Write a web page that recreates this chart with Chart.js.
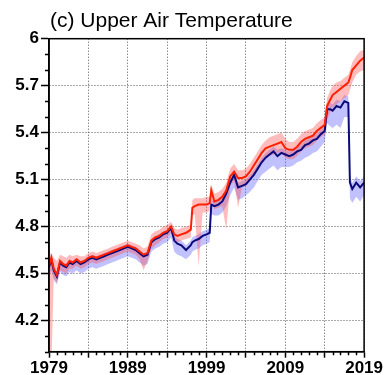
<!DOCTYPE html>
<html>
<head>
<meta charset="utf-8">
<script src="https://cdn.jsdelivr.net/npm/chart.js@4/dist/chart.umd.min.js"></script>
<style>
  html, body { margin: 0; padding: 0; background: #fff; }
  canvas { display: block; }
</style>
</head>
<body>
<canvas id="c" width="385" height="375"></canvas>
<script>
// Time axis (decimal years)
const years = [
  1979.0, 1979.3, 1979.6, 1980.0, 1980.4, 1980.8, 1981.2, 1981.6, 1982.0, 1982.5,
  1983.0, 1983.5, 1984.0, 1984.5, 1985.0, 1985.5, 1986.0, 1986.5, 1987.0, 1987.5,
  1988.0, 1988.5, 1989.0, 1989.5, 1990.0, 1990.5, 1991.0, 1991.5, 1992.0, 1992.5,
  1993.0, 1993.5, 1994.0, 1994.5, 1994.9, 1995.3, 1995.8, 1996.4, 1997.0, 1997.2,
  1997.5, 1998.0, 1998.5, 1999.0, 1999.4, 1999.6, 2000.0, 2000.5, 2001.0, 2001.5,
  2002.0, 2002.5, 2003.0, 2003.5, 2004.0, 2004.5, 2005.0, 2005.5, 2006.0, 2006.5,
  2007.0, 2007.5, 2008.0, 2008.5, 2009.0, 2009.5, 2010.0, 2010.5, 2011.0, 2011.5,
  2012.0, 2012.5, 2013.0, 2013.5, 2014.0, 2014.3, 2014.7, 2015.0, 2015.5, 2016.0,
  2016.5, 2017.0, 2017.2, 2017.5, 2018.0, 2018.5, 2019.0
];

// Red series: central line and spread
const redMean = [
  4.55, 4.60, 4.53, 4.49, 4.58, 4.56, 4.55, 4.58, 4.57, 4.59,
  4.57, 4.58, 4.60, 4.61, 4.60, 4.61, 4.62, 4.63, 4.64, 4.65,
  4.66, 4.67, 4.68, 4.67, 4.66, 4.64, 4.62, 4.63, 4.71, 4.73,
  4.74, 4.76, 4.77, 4.80, 4.75, 4.74, 4.75, 4.76, 4.78, 4.92,
  4.93, 4.94, 4.94, 4.94, 4.95, 5.03, 4.96, 4.97, 4.99, 5.03,
  5.12, 5.15, 5.11, 5.11, 5.12, 5.15, 5.19, 5.23, 5.27, 5.30,
  5.31, 5.32, 5.33, 5.34, 5.30, 5.29, 5.29, 5.31, 5.34, 5.36,
  5.37, 5.38, 5.41, 5.43, 5.45, 5.57, 5.61, 5.64, 5.66, 5.68,
  5.70, 5.72, 5.75, 5.80, 5.83, 5.86, 5.88
];
const redHigh = [
  4.62, 4.63, 4.60, 4.58, 4.62, 4.61, 4.60, 4.62, 4.61, 4.62,
  4.61, 4.61, 4.63, 4.64, 4.63, 4.64, 4.65, 4.66, 4.67, 4.68,
  4.69, 4.70, 4.71, 4.70, 4.69, 4.68, 4.66, 4.67, 4.75, 4.77,
  4.78, 4.80, 4.81, 4.83, 4.79, 4.78, 4.79, 4.80, 4.81, 4.97,
  4.98, 4.98, 4.98, 4.99, 4.99, 5.07, 5.01, 5.02, 5.04, 5.08,
  5.17, 5.20, 5.16, 5.16, 5.17, 5.20, 5.24, 5.28, 5.32, 5.35,
  5.37, 5.38, 5.39, 5.40, 5.36, 5.34, 5.34, 5.36, 5.39, 5.41,
  5.42, 5.43, 5.46, 5.48, 5.50, 5.62, 5.67, 5.70, 5.72, 5.73,
  5.75, 5.77, 5.80, 5.85, 5.89, 5.92, 5.93
];
const redLow = [
  3.90, 3.90, 4.47, 4.44, 4.52, 4.51, 4.50, 4.53, 4.53, 4.55,
  4.53, 4.54, 4.56, 4.57, 4.56, 4.57, 4.58, 4.59, 4.60, 4.61,
  4.62, 4.63, 4.64, 4.63, 4.62, 4.59, 4.52, 4.58, 4.66, 4.68,
  4.70, 4.72, 4.73, 4.76, 4.71, 4.70, 4.71, 4.72, 4.73, 4.87,
  4.88, 4.55, 4.89, 4.89, 4.90, 4.97, 4.91, 4.92, 4.93, 4.78,
  5.06, 5.09, 4.92, 5.05, 5.06, 5.09, 5.13, 5.17, 5.21, 5.24,
  5.25, 5.26, 5.27, 5.27, 5.24, 5.23, 5.23, 5.25, 5.28, 5.30,
  5.31, 5.32, 5.35, 5.37, 5.39, 5.48, 5.53, 5.56, 5.58, 5.60,
  5.62, 5.64, 5.67, 5.72, 5.77, 5.79, 5.80
];

// Navy series: central line and spread
const navyMean = [
  4.54, 4.59, 4.52, 4.48, 4.57, 4.55, 4.54, 4.57, 4.56, 4.58,
  4.56, 4.57, 4.59, 4.60, 4.59, 4.60, 4.61, 4.62, 4.63, 4.64,
  4.65, 4.66, 4.67, 4.66, 4.65, 4.63, 4.61, 4.62, 4.70, 4.72,
  4.73, 4.75, 4.76, 4.79, 4.71, 4.69, 4.68, 4.65, 4.68, 4.70,
  4.71, 4.72, 4.74, 4.75, 4.76, 4.94, 4.93, 4.94, 4.96, 5.01,
  5.08, 5.13, 5.05, 5.06, 5.07, 5.10, 5.13, 5.17, 5.21, 5.24,
  5.26, 5.28, 5.25, 5.27, 5.26, 5.25, 5.26, 5.28, 5.29, 5.32,
  5.33, 5.35, 5.36, 5.39, 5.41, 5.55, 5.55, 5.54, 5.57, 5.56,
  5.60, 5.59, 5.08, 5.04, 5.08, 5.05, 5.08
];
const navyHigh = [
  4.57, 4.61, 4.55, 4.51, 4.59, 4.57, 4.56, 4.59, 4.58, 4.60,
  4.58, 4.59, 4.61, 4.62, 4.61, 4.62, 4.63, 4.64, 4.65, 4.66,
  4.67, 4.68, 4.69, 4.68, 4.67, 4.65, 4.63, 4.64, 4.72, 4.74,
  4.75, 4.77, 4.78, 4.81, 4.74, 4.72, 4.71, 4.68, 4.71, 4.73,
  4.74, 4.75, 4.77, 4.78, 4.79, 4.97, 4.96, 4.97, 4.99, 5.04,
  5.11, 5.16, 5.08, 5.09, 5.10, 5.13, 5.16, 5.20, 5.24, 5.27,
  5.29, 5.31, 5.29, 5.30, 5.29, 5.28, 5.29, 5.31, 5.32, 5.35,
  5.36, 5.38, 5.39, 5.42, 5.44, 5.59, 5.59, 5.58, 5.61, 5.60,
  5.64, 5.63, 5.12, 5.08, 5.12, 5.09, 5.12
];
const navyLow = [
  4.48, 4.52, 4.46, 4.43, 4.51, 4.49, 4.48, 4.51, 4.50, 4.52,
  4.50, 4.51, 4.53, 4.54, 4.53, 4.54, 4.55, 4.56, 4.57, 4.58,
  4.59, 4.60, 4.61, 4.60, 4.59, 4.57, 4.55, 4.56, 4.64, 4.66,
  4.67, 4.69, 4.70, 4.73, 4.64, 4.62, 4.61, 4.59, 4.62, 4.64,
  4.65, 4.66, 4.68, 4.69, 4.70, 4.88, 4.87, 4.87, 4.89, 4.93,
  5.00, 5.05, 4.97, 4.98, 5.00, 5.02, 5.05, 5.09, 5.13, 5.15,
  5.17, 5.19, 5.16, 5.18, 5.18, 5.18, 5.19, 5.21, 5.22, 5.24,
  5.25, 5.27, 5.28, 5.31, 5.34, 5.46, 5.44, 5.43, 5.45, 5.43,
  5.50, 5.50, 4.98, 4.95, 4.99, 4.96, 5.00
];

// Axis ticks and labels
const xTickValues = [1979, 1984, 1989, 1994, 1999, 2004, 2009, 2014, 2019];
const xTickLabels = ['1979', '1989', '1999', '2009', '2019'];
const yTickValues = [4.2, 4.5, 4.8, 5.1, 5.4, 5.7, 6.0];
const yTickLabels = ['4.2', '4.5', '4.8', '5.1', '5.4', '5.7', '6'];
const titleText = '(c) Upper Air Temperature';

const FONT = "'Liberation Sans', Arial, Helvetica, sans-serif";

const pts = arr => years.map((x, i) => ({ x: x, y: arr[i] }));

const lineStyle = (color, width) => ({
  borderColor: color, borderWidth: width, pointRadius: 0, tension: 0, fill: false
});
const bandStyle = (fillColor, fillTarget) => ({
  borderWidth: 0, borderColor: 'rgba(0,0,0,0)', backgroundColor: fillColor,
  pointRadius: 0, tension: 0, fill: fillTarget
});

// Frame, title and minor tick marks
const decorations = {
  id: 'decorations',
  afterDraw(chart) {
    const { ctx, chartArea: a, scales } = chart;
    ctx.save();
    ctx.strokeStyle = '#000';
    ctx.lineWidth = 1.5;
    ctx.strokeRect(a.left, a.top, a.right - a.left, a.bottom - a.top);

    ctx.lineWidth = 1.5;
    ctx.beginPath();
    for (let k = 0; k <= 20; k++) {
      const v = 4.0 + k * 0.1;
      if (yTickValues.some(t => Math.abs(t - v) < 1e-6)) continue;
      const py = Math.round(scales.y.getPixelForValue(v)) + 0.5;
      ctx.moveTo(a.left - 4, py);
      ctx.lineTo(a.left, py);
    }
    for (let yr = 1979; yr <= 2019; yr++) {
      if (xTickValues.includes(yr)) continue;
      const px = Math.round(scales.x.getPixelForValue(yr)) + 0.5;
      ctx.moveTo(px, a.bottom);
      ctx.lineTo(px, a.bottom + 3.5);
    }
    ctx.stroke();

    ctx.fillStyle = '#000';
    ctx.font = '21px ' + FONT;
    ctx.textAlign = 'left';
    ctx.textBaseline = 'alphabetic';
    ctx.fillText(titleText, 50, 27);
    ctx.restore();
  }
};

new Chart(document.getElementById('c'), {
  type: 'line',
  data: {
    datasets: [
      Object.assign({ label: 'red', data: pts(redMean) }, lineStyle('#ff2000', 2)),
      Object.assign({ label: 'navy', data: pts(navyMean) }, lineStyle('#0a0a7a', 2)),
      Object.assign({ label: 'redHigh', data: pts(redHigh) }, bandStyle('rgba(255,80,80,0.38)', '+1')),
      Object.assign({ label: 'redLow', data: pts(redLow) }, bandStyle('rgba(0,0,0,0)', false)),
      Object.assign({ label: 'navyHigh', data: pts(navyHigh) }, bandStyle('rgba(100,100,255,0.40)', '+1')),
      Object.assign({ label: 'navyLow', data: pts(navyLow) }, bandStyle('rgba(0,0,0,0)', false))
    ]
  },
  options: {
    responsive: false,
    animation: false,
    devicePixelRatio: 1,
    parsing: false,
    normalized: true,
    layout: { padding: { left: 0, right: 20, top: 38.7, bottom: 0 } },
    plugins: {
      legend: { display: false },
      tooltip: { enabled: false },
      title: { display: false }
    },
    scales: {
      x: {
        type: 'linear',
        min: 1979,
        max: 2019,
        afterBuildTicks: s => { s.ticks = xTickValues.map(v => ({ value: v })); },
        afterFit: s => { s.height = 23.3; },
        ticks: {
          autoSkip: false,
          maxRotation: 0,
          padding: 2,
          color: '#000',
          font: { family: FONT, size: 17, weight: 'bold', lineHeight: 1 },
          callback: v => {
            const i = xTickLabels.indexOf(String(v));
            return i >= 0 ? xTickLabels[i] : '';
          }
        },
        grid: {
          color: '#555',
          lineWidth: 1,
          tickLength: 6,
          tickColor: '#000',
          tickWidth: 1.5,
          tickBorderDash: []
        },
        border: { display: true, color: '#000', width: 1.5, dash: [1, 2] }
      },
      y: {
        type: 'linear',
        min: 4.0,
        max: 6.0,
        afterBuildTicks: s => { s.ticks = yTickValues.map(v => ({ value: v })); },
        afterFit: s => { s.width = 49; },
        ticks: {
          padding: 2,
          color: '#000',
          font: { family: FONT, size: 17, weight: 'bold', lineHeight: 1 },
          callback: v => {
            const i = yTickValues.findIndex(t => Math.abs(t - v) < 1e-6);
            return i >= 0 ? yTickLabels[i] : '';
          }
        },
        grid: {
          color: '#555',
          lineWidth: 1,
          tickLength: 8,
          tickColor: '#000',
          tickWidth: 1.5,
          tickBorderDash: []
        },
        border: { display: true, color: '#000', width: 1.5, dash: [1, 2] }
      }
    }
  },
  plugins: [decorations]
});
</script>
</body>
</html>
